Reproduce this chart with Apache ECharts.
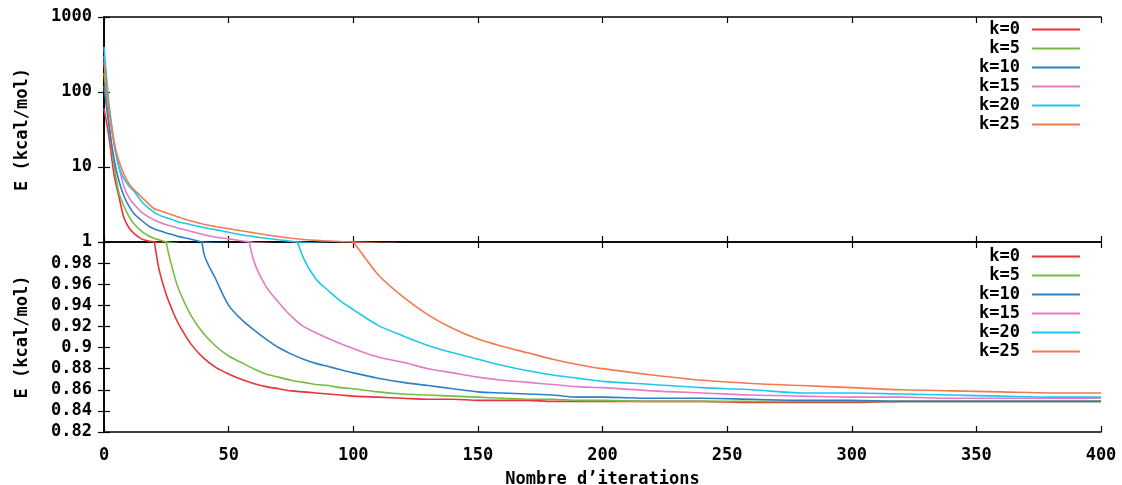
<!DOCTYPE html>
<html><head><meta charset="utf-8">
<script src="https://cdn.jsdelivr.net/npm/echarts@6/dist/echarts.min.js"></script>
<style>html,body{margin:0;padding:0;background:#fff}#c{width:1122px;height:485px}</style>
</head><body><div id="c"></div>
<script>
const iterations = [0,2,4,6,8,10,12,15,18,20,22,25,28,30,35,40,45,50,55,60,65,70,75,80,85,90,95,100,110,120,130,140,150,160,170,180,190,200,220,240,260,280,300,320,340,360,380,400];
const k0  = [60,25,8,4,2.1,1.55,1.3,1.1,1.03,1.003,0.975,0.950,0.932,0.922,0.903,0.890,0.881,0.875,0.870,0.866,0.863,0.861,0.859,0.858,0.857,0.856,0.855,0.854,0.853,0.852,0.851,0.851,0.850,0.850,0.850,0.849,0.849,0.849,0.849,0.849,0.848,0.848,0.848,0.849,0.849,0.849,0.849,0.849];
const k5  = [180,40,11,4.5,3.0,2.2,1.75,1.4,1.2,1.12,1.07,1.0,0.970,0.955,0.930,0.913,0.901,0.892,0.886,0.880,0.875,0.872,0.869,0.867,0.865,0.864,0.862,0.861,0.858,0.856,0.855,0.854,0.853,0.852,0.851,0.851,0.85,0.85,0.849,0.849,0.849,0.849,0.849,0.849,0.849,0.849,0.849,0.849];
const k10 = [120,35,13,6.5,4.1,3.0,2.4,1.95,1.63,1.5,1.42,1.32,1.24,1.18,1.09,0.99,0.964,0.940,0.927,0.917,0.908,0.900,0.894,0.889,0.885,0.882,0.879,0.876,0.871,0.867,0.864,0.861,0.858,0.857,0.856,0.855,0.853,0.853,0.852,0.852,0.851,0.85,0.85,0.849,0.849,0.849,0.849,0.849];
const k15 = [300,60,20,10,5.5,3.9,3.2,2.5,2.15,1.98,1.85,1.7,1.6,1.53,1.38,1.25,1.16,1.1,1.04,0.983,0.958,0.943,0.930,0.920,0.914,0.9085,0.9035,0.899,0.891,0.886,0.88,0.876,0.872,0.869,0.867,0.865,0.863,0.862,0.859,0.857,0.855,0.854,0.853,0.853,0.852,0.852,0.852,0.852];
const k20 = [400,70,22,10,7,5.6,4.8,3.5,2.8,2.5,2.3,2.1,1.95,1.85,1.7,1.56,1.45,1.35,1.25,1.18,1.12,1.07,1.02,0.985,0.965,0.954,0.944,0.936,0.921,0.911,0.902,0.895,0.889,0.883,0.878,0.874,0.871,0.868,0.865,0.862,0.86,0.857,0.857,0.856,0.855,0.854,0.853,0.853];
const k25 = [250,60,22,12,8,6.0,5.0,4.0,3.2,2.8,2.65,2.44,2.25,2.15,1.9,1.72,1.6,1.5,1.41,1.33,1.25,1.18,1.12,1.08,1.05,1.03,1.013,1.0,0.969,0.948,0.931,0.918,0.908,0.901,0.895,0.889,0.884,0.88,0.874,0.869,0.866,0.864,0.862,0.86,0.859,0.858,0.857,0.857];
const seriesNames = ['k=0','k=5','k=10','k=15','k=20','k=25'];
const seriesValues = [k0,k5,k10,k15,k20,k25];
const colors = ['#e8333a','#77bb44','#2f7fc4','#e77ac4','#1ec8ec','#f27a4e'];

const FONT = 'DejaVu Sans Mono';
const lbl = {color:'#000', fontFamily:FONT, fontWeight:'bold', fontSize:17};
const axLine = {show:true, lineStyle:{color:'#000', width:1.6}};
const tickIn = {show:true, inside:true, length:6, lineStyle:{color:'#000', width:1.2}};
const noSplit = {show:false};

function xAx(grid, pos, withLabels){
  const a = {gridIndex:grid, type:'value', min:0, max:400, interval:50, position:pos,
    axisLine:axLine, axisTick:tickIn, splitLine:noSplit,
    axisLabel: withLabels ? Object.assign({margin:15}, lbl) : {show:false}};
  if (withLabels){
    a.name = 'Nombre d\u2019iterations'; a.nameLocation='middle'; a.nameGap=39; a.nameTextStyle=lbl;
  }
  return a;
}
const yAxes = [
  {gridIndex:0, type:'log', logBase:10, min:1, max:1000, position:'left', axisLine:axLine, axisTick:tickIn,
   splitLine:noSplit,
   axisLabel:Object.assign({margin:12, formatter:function(v){return String(v);}}, lbl),
   name:'E (kcal/mol)', nameLocation:'middle', nameGap:73, nameRotate:90, nameTextStyle:lbl},
  {gridIndex:0, type:'log', logBase:10, min:1, max:1000, position:'right', axisLine:axLine, axisTick:tickIn,
   splitLine:noSplit, axisLabel:{show:false}},
  {gridIndex:1, type:'value', min:0.82, max:1, interval:0.02, position:'left', axisLine:axLine, axisTick:tickIn,
   splitLine:noSplit, axisLabel:Object.assign({margin:12, showMaxLabel:false}, lbl),
   name:'E (kcal/mol)', nameLocation:'middle', nameGap:73, nameRotate:90, nameTextStyle:lbl},
  {gridIndex:1, type:'value', min:0.82, max:1, interval:0.02, position:'right', axisLine:axLine, axisTick:tickIn,
   splitLine:noSplit, axisLabel:{show:false}}
];

const series = [];
[0,1].forEach(function(g){
  seriesNames.forEach(function(n,i){
    series.push({name:n, type:'line', xAxisIndex: g===0?0:2, yAxisIndex: g===0?0:2,
      data: iterations.map(function(x,j){return [x, seriesValues[i][j]];}),
      showSymbol:false, symbol:'none', smooth:0.3, clip:true,
      lineStyle:{color:colors[i], width:1.6}, itemStyle:{color:colors[i]}});
  });
});

function legend(top){
  return {data:seriesNames, orient:'vertical', right:42, top:top, align:'right', padding:0,
    icon:'rect', itemWidth:48, itemHeight:2, itemGap:2,
    textStyle:Object.assign({padding:[0,7,0,0]}, lbl)};
}

const chart = echarts.init(document.getElementById('c'));
chart.setOption({
  animation:false,
  backgroundColor:'#fff',
  grid:[{left:104, top:17, width:997, height:225, containLabel:false, outerBoundsMode:'none'},
        {left:104, top:242, width:997, height:190, containLabel:false, outerBoundsMode:'none'}],
  xAxis:[xAx(0,'bottom',false), xAx(0,'top',false), xAx(1,'bottom',true), xAx(1,'top',false)],
  yAxis:yAxes,
  legend:[legend(21), legend(248)],
  series:series
});
</script>
</body></html>
